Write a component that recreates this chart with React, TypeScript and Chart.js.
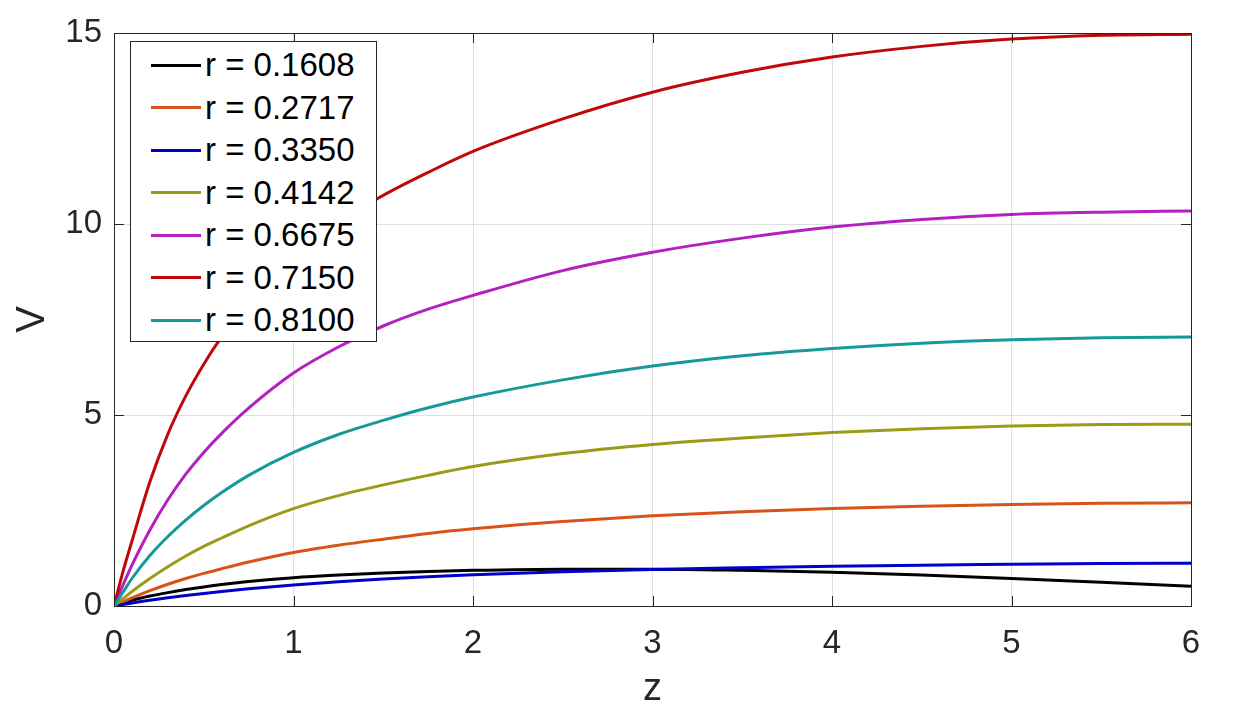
import { useEffect, useRef } from 'react';
import { Chart, registerables } from 'chart.js';

Chart.register(...registerables);

const zValues = [0, 0.05, 0.1, 0.2, 0.3, 0.4, 0.5, 0.6, 0.75, 1, 1.25, 1.5, 1.75, 2, 2.5, 3, 3.5, 4, 4.5, 5, 5.5, 6];

const rLabels = ['r = 0.1608', 'r = 0.2717', 'r = 0.3350', 'r = 0.4142', 'r = 0.6675', 'r = 0.7150', 'r = 0.8100'];
const lineColors = ['#000000', '#d95319', '#0000cc', '#9b9b1a', '#b41fc0', '#c00808', '#179999'];

const vR1608 = [0, 0.08, 0.15, 0.26, 0.35, 0.43, 0.5, 0.56, 0.64, 0.74, 0.81, 0.865, 0.905, 0.935, 0.965, 0.965, 0.935, 0.885, 0.81, 0.72, 0.62, 0.52];
const vR2717 = [0, 0.105, 0.21, 0.4, 0.57, 0.72, 0.855, 0.977, 1.15, 1.4, 1.59, 1.75, 1.9, 2.02, 2.21, 2.36, 2.47, 2.55, 2.61, 2.66, 2.69, 2.7];
const vR3350 = [0, 0.04, 0.08, 0.15, 0.215, 0.275, 0.33, 0.38, 0.45, 0.55, 0.635, 0.705, 0.765, 0.815, 0.895, 0.955, 1.0, 1.04, 1.07, 1.09, 1.11, 1.12];
const vR4142 = [0, 0.19, 0.38, 0.72, 1.03, 1.31, 1.56, 1.78, 2.1, 2.55, 2.89, 3.17, 3.42, 3.65, 3.99, 4.23, 4.4, 4.54, 4.64, 4.71, 4.75, 4.76];
const vR6675 = [0, 0.55, 1.07, 1.99, 2.78, 3.45, 4.02, 4.52, 5.18, 6.1, 6.78, 7.33, 7.77, 8.13, 8.78, 9.26, 9.63, 9.92, 10.12, 10.25, 10.31, 10.34];
const vR7150 = [0, 0.9, 1.7, 3.25, 4.5, 5.5, 6.33, 7.05, 8.0, 9.15, 10.05, 10.75, 11.35, 11.9, 12.75, 13.45, 13.97, 14.37, 14.65, 14.84, 14.94, 14.97];
const vR8100 = [0, 0.36, 0.72, 1.32, 1.82, 2.25, 2.63, 2.97, 3.42, 4.02, 4.49, 4.86, 5.19, 5.47, 5.92, 6.28, 6.55, 6.74, 6.88, 6.97, 7.02, 7.04];

const seriesValues = [vR1608, vR2717, vR3350, vR4142, vR6675, vR7150, vR8100];

const xTickValues = [0, 1, 2, 3, 4, 5, 6];
const yTickValues = [0, 5, 10, 15];

const FONT = '"Liberation Sans", Arial, Helvetica, sans-serif';
const AXIS_COLOR = '#262626';

// MATLAB style box with ticks pointing inwards
const boxTicks = {
  id: 'boxTicks',
  afterDraw(chart: any) {
    const { ctx, chartArea: a, scales } = chart;
    ctx.save();
    ctx.strokeStyle = AXIS_COLOR;
    ctx.lineWidth = 1;
    ctx.beginPath();
    xTickValues.forEach((v) => {
      const px = Math.round(scales.x.getPixelForValue(v)) + 0.5;
      ctx.moveTo(px, a.bottom);
      ctx.lineTo(px, a.bottom - 10);
      ctx.moveTo(px, a.top);
      ctx.lineTo(px, a.top + 10);
    });
    yTickValues.forEach((v) => {
      const py = Math.round(scales.y.getPixelForValue(v)) + 0.5;
      ctx.moveTo(a.left, py);
      ctx.lineTo(a.left + 10, py);
      ctx.moveTo(a.right, py);
      ctx.lineTo(a.right - 10, py);
    });
    ctx.stroke();
    ctx.strokeRect(Math.round(a.left) + 0.5, Math.round(a.top) + 0.5, Math.round(a.width), Math.round(a.height));
    ctx.restore();
  },
};

export default function App() {
  const canvasRef = useRef<HTMLCanvasElement>(null);

  useEffect(() => {
    if (!canvasRef.current) return;
    const ctx = canvasRef.current.getContext('2d');
    if (!ctx) return;

    const chart = new Chart(ctx, {
      type: 'line',
      data: {
        datasets: seriesValues.map((vals, i) => ({
          label: rLabels[i],
          data: vals.map((v, j) => ({ x: zValues[j], y: v })),
          borderColor: lineColors[i],
          backgroundColor: lineColors[i],
          borderWidth: 3,
          pointRadius: 0,
          fill: false,
          cubicInterpolationMode: 'monotone' as const,
          // later series on top, like MATLAB
          order: seriesValues.length - i,
        })),
      },
      options: {
        animation: false,
        responsive: true,
        maintainAspectRatio: false,
        layout: { padding: { top: 33, right: 55, left: 0, bottom: 0 } },
        plugins: {
          legend: { display: false },
          tooltip: { enabled: false },
        },
        scales: {
          x: {
            type: 'linear',
            min: 0,
            max: 6,
            afterFit: (s: any) => {
              s.height = 108;
            },
            afterBuildTicks: (s: any) => {
              s.ticks = xTickValues.map((v) => ({ value: v }));
            },
            ticks: {
              color: AXIS_COLOR,
              padding: 18,
              font: { family: FONT, size: 33 },
            },
            grid: { color: '#dedede', drawTicks: false },
            border: { display: false },
            title: {
              display: true,
              text: 'z',
              color: AXIS_COLOR,
              font: { family: FONT, size: 38 },
              padding: { top: 0, bottom: 2 },
            },
          },
          y: {
            type: 'linear',
            min: 0,
            max: 15,
            afterFit: (s: any) => {
              s.width = 114;
            },
            afterBuildTicks: (s: any) => {
              s.ticks = yTickValues.map((v) => ({ value: v }));
            },
            ticks: {
              color: AXIS_COLOR,
              padding: 12,
              font: { family: FONT, size: 33 },
            },
            grid: { color: '#dedede', drawTicks: false },
            border: { display: false },
            title: {
              display: true,
              text: 'V',
              color: AXIS_COLOR,
              font: { family: FONT, size: 40 },
              padding: { top: 9, bottom: 0 },
            },
          },
        },
      },
      plugins: [boxTicks],
    });

    return () => {
      chart.destroy();
    };
  }, []);

  return (
    <div style={{ position: 'fixed', left: 0, top: 0, width: 1246, height: 714, background: '#ffffff' }}>
      <canvas ref={canvasRef} />

      {/* legend inside the axes, top left */}
      <div
        style={{
          position: 'absolute',
          left: 130,
          top: 41,
          width: 247,
          height: 301,
          boxSizing: 'border-box',
          border: `1px solid ${AXIS_COLOR}`,
          background: '#ffffff',
          paddingTop: 2,
          fontFamily: FONT,
          fontSize: 33,
          color: '#000000',
        }}
      >
        {rLabels.map((label, i) => (
          <div key={label} style={{ display: 'flex', alignItems: 'center', height: 42.5 }}>
            <div style={{ width: 50, height: 3, marginLeft: 20, marginRight: 4, background: lineColors[i] }} />
            <span style={{ whiteSpace: 'nowrap' }}>{label}</span>
          </div>
        ))}
      </div>
    </div>
  );
}
